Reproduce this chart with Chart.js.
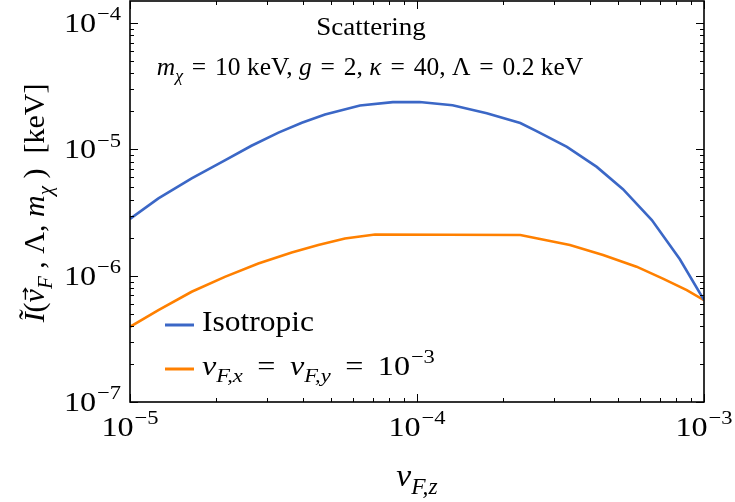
<!DOCTYPE html>
<html>
<head>
<meta charset="utf-8">
<script src="https://cdn.jsdelivr.net/npm/chart.js@4.4.1/dist/chart.umd.min.js"></script>
<style>
  html, body { margin: 0; padding: 0; background: #fff; }
  canvas { display: block; }
</style>
</head>
<body>
<canvas id="chart" width="735" height="502"></canvas>
<script>
// ======================================
// DATA
// ======================================
const isoX = [1e-5, 1.256e-5, 1.64e-5, 2.14e-5, 2.65e-5, 3.29e-5, 3.97e-5, 4.78e-5, 6.33e-5, 8.24e-5,
              1.02e-4, 1.33e-4, 1.75e-4, 2.29e-4, 2.61e-4, 3.33e-4, 4.23e-4, 5.22e-4, 6.58e-4, 8.24e-4, 1e-3];
const isoY = [2.82e-6, 4.1e-6, 5.9e-6, 8.2e-6, 1.07e-5, 1.36e-5, 1.63e-5, 1.89e-5, 2.23e-5, 2.37e-5,
              2.38e-5, 2.24e-5, 1.94e-5, 1.62e-5, 1.40e-5, 1.05e-5, 7.28e-6, 4.85e-6, 2.76e-6, 1.35e-6, 6.41e-7];

const anisoX = [1e-5, 1.256e-5, 1.64e-5, 2.14e-5, 2.80e-5, 3.66e-5, 4.53e-5, 5.61e-5, 7.14e-5,
                2.29e-4, 3.41e-4, 4.45e-4, 5.82e-4, 7.19e-4, 8.71e-4, 1e-3];
const anisoY = [3.94e-7, 5.35e-7, 7.47e-7, 9.8e-7, 1.25e-6, 1.53e-6, 1.75e-6, 1.97e-6, 2.12e-6,
                2.10e-6, 1.75e-6, 1.46e-6, 1.18e-6, 9.5e-7, 7.7e-7, 6.4e-7];

const xMajorTicks = [1e-5, 1e-4, 1e-3];
const xMajorExp = ['−5', '−4', '−3'];
const yMajorTicks = [1e-7, 1e-6, 1e-5, 1e-4];
const yMajorExp = ['−7', '−6', '−5', '−4'];
const minorMult = [2, 3, 4, 5, 6, 7, 8, 9];

const colorIso = '#3b67c6';
const colorAniso = '#ff8000';
const SERIF = '"Liberation Serif", "DejaVu Serif", serif';

// ======================================
// HELPERS
// ======================================
// segs: {t, it, sub, sup, arrow} or {gap} (gap in em); st = horizontal stretch
function drawRich(ctx, segs, x, y, size, align, st) {
    st = st || 1;
    const items = segs.map(s => {
        if (s.gap) return { gap: true, w: s.gap * size };
        const fs = (s.sub || s.sup) ? size * 0.7 : size;
        const font = (s.it ? 'italic ' : '') + fs + 'px ' + SERIF;
        ctx.font = font;
        return Object.assign({}, s, { font: font, w: ctx.measureText(s.t).width * st });
    });
    const total = items.reduce((a, b) => a + b.w, 0);
    let cx = align === 'center' ? x - total / 2 : (align === 'right' ? x - total : x);
    ctx.textAlign = 'left'; ctx.textBaseline = 'alphabetic';
    items.forEach(it => {
        if (it.gap) { cx += it.w; return; }
        ctx.font = it.font;
        const dy = it.sup ? -size * 0.42 : (it.sub ? size * 0.25 : 0);
        ctx.save(); ctx.translate(cx, y + dy); ctx.scale(st, 1);
        ctx.fillText(it.t, 0, 0);
        ctx.restore();
        if (it.arrow) {
            const ay = y - size * 0.62, ax0 = cx + it.w * 0.2, ax1 = cx + it.w * 1.05;
            ctx.save(); ctx.lineWidth = size * 0.045; ctx.beginPath();
            ctx.moveTo(ax0, ay); ctx.lineTo(ax1, ay);
            ctx.moveTo(ax1 - size * 0.12, ay - size * 0.08); ctx.lineTo(ax1, ay); ctx.lineTo(ax1 - size * 0.12, ay + size * 0.08);
            ctx.stroke(); ctx.restore();
        }
        cx += it.w;
    });
}

function minorValues(decades, min, max) {
    const out = [];
    decades.forEach(d => minorMult.forEach(m => { const v = m * d; if (v > min && v < max) out.push(v); }));
    return out;
}

// ======================================
// DECORATION PLUGIN (frame, inward ticks, mathtext-like labels)
// ======================================
const decoPlugin = {
    id: 'deco',
    afterDraw(chart) {
        const ctx = chart.ctx, a = chart.chartArea;
        const xs = chart.scales.x, ys = chart.scales.y;
        ctx.save();
        ctx.strokeStyle = '#000'; ctx.fillStyle = '#000';

        // ticks
        ctx.lineWidth = 1;
        const xMinor = minorValues([1e-5, 1e-4], xs.min, xs.max);
        const yMinor = minorValues([1e-7, 1e-6, 1e-5, 1e-4], ys.min, ys.max);
        ctx.beginPath();
        xMajorTicks.forEach(v => { const p = Math.round(xs.getPixelForValue(v)) + 0.5;
            ctx.moveTo(p, a.bottom); ctx.lineTo(p, a.bottom - 8); ctx.moveTo(p, a.top); ctx.lineTo(p, a.top + 8); });
        xMinor.forEach(v => { const p = Math.round(xs.getPixelForValue(v)) + 0.5;
            ctx.moveTo(p, a.bottom); ctx.lineTo(p, a.bottom - 4); ctx.moveTo(p, a.top); ctx.lineTo(p, a.top + 4); });
        yMajorTicks.forEach(v => { const p = Math.round(ys.getPixelForValue(v)) + 0.5;
            ctx.moveTo(a.left, p); ctx.lineTo(a.left + 8, p); ctx.moveTo(a.right, p); ctx.lineTo(a.right - 8, p); });
        yMinor.forEach(v => { const p = Math.round(ys.getPixelForValue(v)) + 0.5;
            ctx.moveTo(a.left, p); ctx.lineTo(a.left + 4, p); ctx.moveTo(a.right, p); ctx.lineTo(a.right - 4, p); });
        ctx.stroke();

        // frame
        ctx.lineWidth = 1.6;
        ctx.strokeRect(a.left, a.top, a.right - a.left, a.bottom - a.top);

        // tick labels
        xMajorTicks.forEach((v, i) => drawRich(ctx, [{ t: '10' }, { gap: 0.03 }, { t: xMajorExp[i], sup: true }], xs.getPixelForValue(v), 436, 28, 'center', 1.15));
        yMajorTicks.forEach((v, i) => drawRich(ctx, [{ t: '10' }, { gap: 0.03 }, { t: yMajorExp[i], sup: true }], 121, ys.getPixelForValue(v) + 9, 28, 'right', 1.15));

        // axis titles
        drawRich(ctx, [{ t: 'v', it: true }, { t: 'F,z', it: true, sub: true }], (a.left + a.right) / 2, 486, 32, 'center', 1.05);
        ctx.save();
        ctx.translate(44, 203); ctx.rotate(-Math.PI / 2);
        drawRich(ctx, [{ t: 'Ĩ', it: true }, { t: '(' }, { t: 'v', it: true, arrow: true }, { t: 'F', it: true, sub: true },
                       { t: ' , Λ, ' }, { t: 'm', it: true }, { t: 'χ', it: true, sub: true }, { t: ' )  [keV]' }], 0, 0, 30, 'center', 1.0);
        ctx.restore();

        // annotations
        drawRich(ctx, [{ t: 'Scattering' }], 371, 35, 25, 'center', 1.08);
        drawRich(ctx, [{ t: 'm', it: true }, { t: 'χ', it: true, sub: true }, { gap: 0.1 }, { t: ' = ' }, { gap: 0.1 }, { t: '10 keV, ' },
                       { t: 'g', it: true }, { gap: 0.1 }, { t: ' = ' }, { gap: 0.1 }, { t: '2, ' },
                       { t: 'κ', it: true }, { gap: 0.1 }, { t: ' = ' }, { gap: 0.1 }, { t: '40, Λ' },
                       { gap: 0.1 }, { t: ' = ' }, { gap: 0.1 }, { t: '0.2 keV' }], 370, 75, 25, 'center', 1.02);

        // legend
        ctx.lineWidth = 3;
        ctx.strokeStyle = colorIso; ctx.beginPath(); ctx.moveTo(165, 325); ctx.lineTo(194, 325); ctx.stroke();
        ctx.strokeStyle = colorAniso; ctx.beginPath(); ctx.moveTo(165, 369); ctx.lineTo(194, 369); ctx.stroke();
        drawRich(ctx, [{ t: 'Isotropic' }], 202, 331, 30, 'left', 1.05);
        drawRich(ctx, [{ t: 'v', it: true }, { t: 'F,x', it: true, sub: true }, { gap: 0.23 }, { t: ' = ' }, { gap: 0.23 }, { t: 'v', it: true },
                       { t: 'F,y', it: true, sub: true }, { gap: 0.23 }, { t: ' = ' }, { gap: 0.23 }, { t: '10' }, { gap: 0.03 }, { t: '−3', sup: true }],
                 202, 375, 28, 'left', 1.15);
        ctx.restore();
    }
};

// ======================================
// CHART
// ======================================
const toPoints = (xv, yv) => xv.map((x, i) => ({ x: x, y: yv[i] }));

const chartData = {
    datasets: [
        { label: 'Isotropic', data: toPoints(isoX, isoY), showLine: true, borderColor: colorIso,
          borderWidth: 2.6, pointRadius: 0, tension: 0, fill: false },
        { label: 'vF,x = vF,y = 1e-3', data: toPoints(anisoX, anisoY), showLine: true, borderColor: colorAniso,
          borderWidth: 2.6, pointRadius: 0, tension: 0, fill: false }
    ]
};

const hiddenAxis = (min, max, fit) => ({
    type: 'logarithmic', min: min, max: max,
    ticks: { display: false }, grid: { display: false, drawTicks: false }, border: { display: false },
    afterFit: fit
});

const chartOptions = {
    responsive: false, animation: false, devicePixelRatio: 1,
    layout: { padding: { left: 130, right: 31, top: 1, bottom: 100 } },
    scales: {
        x: hiddenAxis(1e-5, 1e-3, s => { s.height = 0; }),
        y: hiddenAxis(1e-7, 1.5e-4, s => { s.width = 0; })
    },
    plugins: { legend: { display: false }, tooltip: { enabled: false }, title: { display: false } }
};

document.addEventListener('DOMContentLoaded', function() {
    new Chart(document.getElementById('chart').getContext('2d'), {
        type: 'scatter', data: chartData, options: chartOptions, plugins: [decoPlugin]
    });
});
</script>
</body>
</html>
